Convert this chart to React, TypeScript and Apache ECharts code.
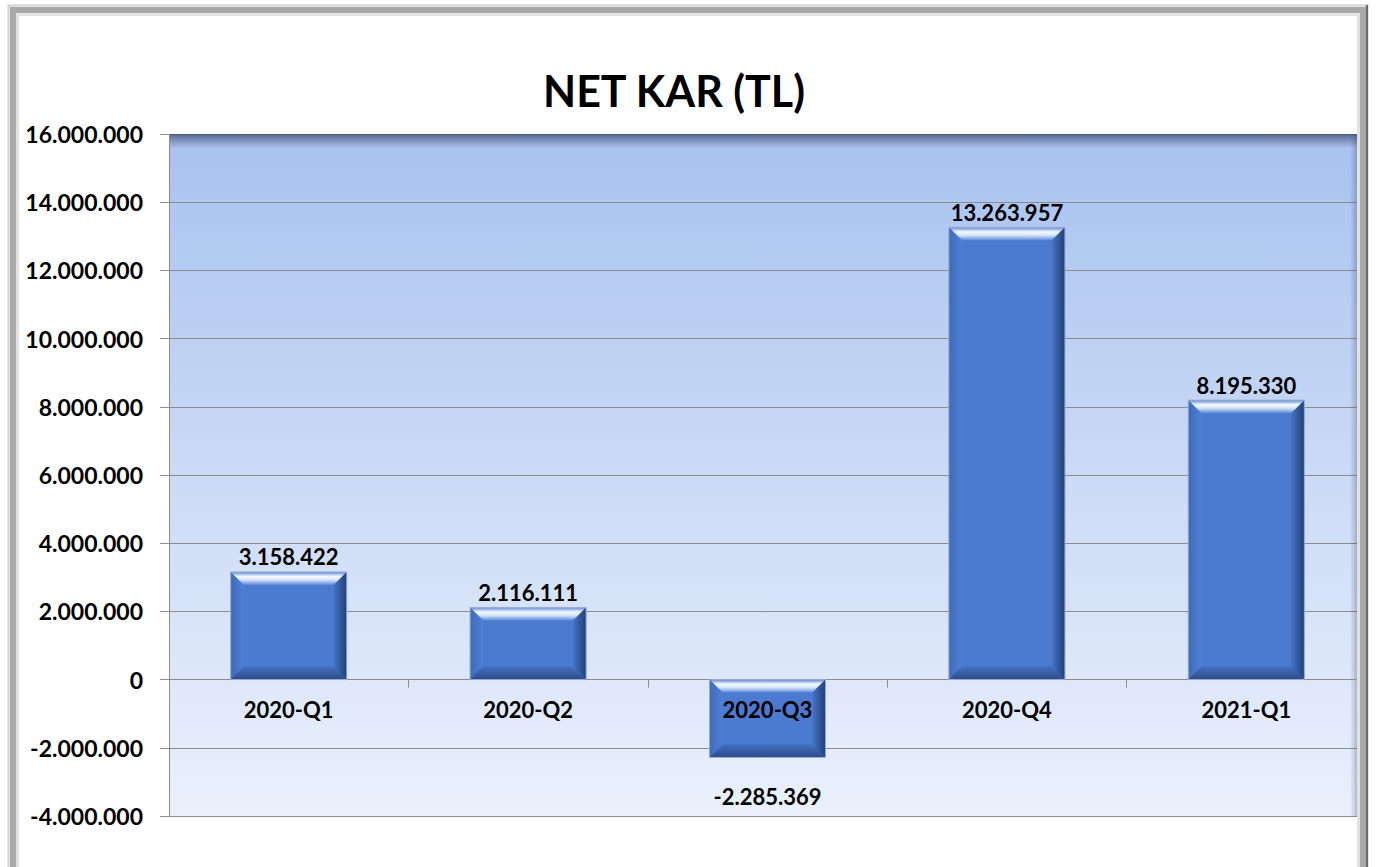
import React, { useEffect, useRef } from "react";
import * as echarts from "echarts";

const categories = ["2020-Q1", "2020-Q2", "2020-Q3", "2020-Q4", "2021-Q1"];
const netKar = [3158422, 2116111, -2285369, 13263957, 8195330];
const chartTitle = "NET KAR (TL)";
const yMin = -4000000;
const yMax = 16000000;
const yStep = 2000000;

const FONT = "Lato, 'Open Sans', sans-serif";

function fmt(v: number): string {
  const neg = v < 0;
  const s = Math.abs(Math.round(v)).toString().replace(/\B(?=(\d{3})+(?!\d))/g, ".");
  return (neg ? "-" : "") + s;
}

export default function App() {
  const ref = useRef<HTMLDivElement>(null);
  useEffect(() => {
    if (!ref.current) return;
    const chart = echarts.init(ref.current, undefined, { renderer: "svg" });
    const gridL = 169, gridT = 134, gridW = 1197, gridH = 682;
    const option: any = {
      animation: false,
      backgroundColor: "#ffffff",
      title: {
        text: chartTitle,
        left: 538,
        top: 64,
        textStyle: { fontFamily: FONT, fontSize: 43, fontWeight: "bold", color: "#000" },
      },
      grid: {
        left: gridL,
        top: gridT,
        width: gridW,
        height: gridH,
        show: true,
        borderWidth: 0,
        backgroundColor: new echarts.graphic.LinearGradient(0, 0, 0, 1, [
          { offset: 0, color: "#a7c2ef" },
          { offset: 0.5, color: "#cbdaf6" },
          { offset: 1, color: "#eaf1fc" },
        ]),
      },
      graphic: [
        { type: "rect", z: 100, silent: true, shape: { x: 8.5, y: 5.5, width: 1359, height: 900 }, style: { fill: "none", stroke: "#d0d0d0", lineWidth: 2 } },
        { type: "rect", z: 100, silent: true, shape: { x: 13, y: 10, width: 1350, height: 900 }, style: { fill: "none", stroke: "#a8a8a8", lineWidth: 6 } },
        { type: "rect", z: 100, silent: true, shape: { x: 17.5, y: 14.5, width: 1341, height: 900 }, style: { fill: "none", stroke: "#e2e2e2", lineWidth: 3 } },
        { type: "line", z: 101, silent: true, shape: { x1: 1367, y1: 5, x2: 1367, y2: 867 }, style: { stroke: "#6a6a6a", lineWidth: 2 } },
        {
          type: "rect", z: 1, silent: true,
          shape: { x: gridL, y: gridT, width: gridW, height: 14 },
          style: { fill: new echarts.graphic.LinearGradient(0, 0, 0, 1, [
            { offset: 0, color: "rgba(60,75,110,0.75)" },
            { offset: 1, color: "rgba(60,75,110,0)" },
          ]) },
        },
        {
          type: "rect", z: 1, silent: true,
          shape: { x: gridL + gridW - 16, y: gridT, width: 16, height: gridH },
          style: { fill: new echarts.graphic.LinearGradient(0, 0, 1, 0, [
            { offset: 0, color: "rgba(60,75,110,0)" },
            { offset: 1, color: "rgba(60,75,110,0.75)" },
          ]) },
        },
        { type: "line", z: 2, silent: true, shape: { x1: gridL + 0.5, y1: gridT, x2: gridL + 0.5, y2: gridT + gridH }, style: { stroke: "#8c8c8c", lineWidth: 1 } },
      ],
      xAxis: {
        type: "category",
        data: categories,
        axisLine: { show: true, onZero: true, lineStyle: { color: "#8c8c8c", width: 1 } },
        axisTick: { show: true, length: 8, lineStyle: { color: "#8c8c8c" } },
        axisLabel: { show: false },
        z: 5,
      },
      yAxis: {
        type: "value",
        min: yMin,
        max: yMax,
        interval: yStep,
        axisLine: { show: false },
        axisTick: { show: true, length: 9, lineStyle: { color: "#8c8c8c" } },
        axisLabel: { margin: 26, fontFamily: FONT, fontSize: 23, fontWeight: "bold", color: "#000", formatter: (v: number) => fmt(v) },
        splitLine: { show: true, lineStyle: { color: "#8c8c8c", width: 1 } },
      },
      series: [
        {
          type: "custom",
          z: 10,
          data: netKar.map((v, i) => [i, v]),
          encode: { x: 0, y: 1 },
          renderItem: (params: any, api: any) => {
            const idx = api.value(0);
            const v = api.value(1);
            const pTop = api.coord([idx, Math.max(v, 0)]);
            const pBot = api.coord([idx, Math.min(v, 0)]);
            const pZero = api.coord([idx, 0]);
            const bw = api.size([1, 0])[0] * 0.485;
            const x0 = pTop[0] - bw / 2;
            const x1 = x0 + bw;
            const y0 = pTop[1];
            const y1 = pBot[1];
            const b = Math.min(13, (y1 - y0) / 3);
            const children: any[] = [
              { type: "rect", shape: { x: x0, y: y0, width: bw, height: y1 - y0 }, style: { fill: "#4a7bd0" } },
              {
                type: "polygon",
                shape: { points: [[x0, y0], [x1, y0], [x1 - b, y0 + b], [x0 + b, y0 + b]] },
                style: { fill: new echarts.graphic.LinearGradient(0, 0, 0, 1, [
                  { offset: 0, color: "#5b87d4" },
                  { offset: 0.35, color: "#f4f8ff" },
                  { offset: 0.6, color: "#d8e6fb" },
                  { offset: 1, color: "#5e8ad6" },
                ]) },
              },
              {
                type: "polygon",
                shape: { points: [[x0, y0], [x0 + b, y0 + b], [x0 + b, y1 - b], [x0, y1]] },
                style: { fill: new echarts.graphic.LinearGradient(0, 0, 1, 0, [
                  { offset: 0, color: "#3e6bbb" },
                  { offset: 1, color: "#4f80d4" },
                ]) },
              },
              {
                type: "polygon",
                shape: { points: [[x1, y0], [x1, y1], [x1 - b, y1 - b], [x1 - b, y0 + b]] },
                style: { fill: new echarts.graphic.LinearGradient(0, 0, 1, 0, [
                  { offset: 0, color: "#4574c4" },
                  { offset: 1, color: "#223f75" },
                ]) },
              },
              {
                type: "polygon",
                shape: { points: [[x0, y1], [x1, y1], [x1 - b, y1 - b], [x0 + b, y1 - b]] },
                style: { fill: new echarts.graphic.LinearGradient(0, 0, 0, 1, [
                  { offset: 0, color: "#4270bf" },
                  { offset: 1, color: "#2b4c8a" },
                ]) },
              },
              { type: "rect", shape: { x: x0, y: y0, width: bw, height: y1 - y0 }, style: { fill: "none", stroke: "#9db0d2", lineWidth: 1 } },
              {
                type: "text",
                style: {
                  text: fmt(v),
                  x: pTop[0],
                  y: v >= 0 ? y0 - 4 : y1 + 28,
                  align: "center",
                  verticalAlign: v >= 0 ? "bottom" : "top",
                  fontFamily: FONT,
                  fontSize: 22,
                  fontWeight: "bold",
                  fill: "#000",
                },
              },
              {
                type: "text",
                style: {
                  text: categories[idx],
                  x: pZero[0],
                  y: pZero[1] + 19,
                  align: "center",
                  verticalAlign: "top",
                  fontFamily: FONT,
                  fontSize: 22,
                  fontWeight: "bold",
                  fill: "#000",
                },
              },
            ];
            return { type: "group", children };
          },
        },
      ],
    };
    chart.setOption(option);
    return () => chart.dispose();
  }, []);
  return (
    <div
      ref={ref}
      style={{ position: "fixed", left: 0, top: 0, width: 1385, height: 867, background: "#fff" }}
    />
  );
}
